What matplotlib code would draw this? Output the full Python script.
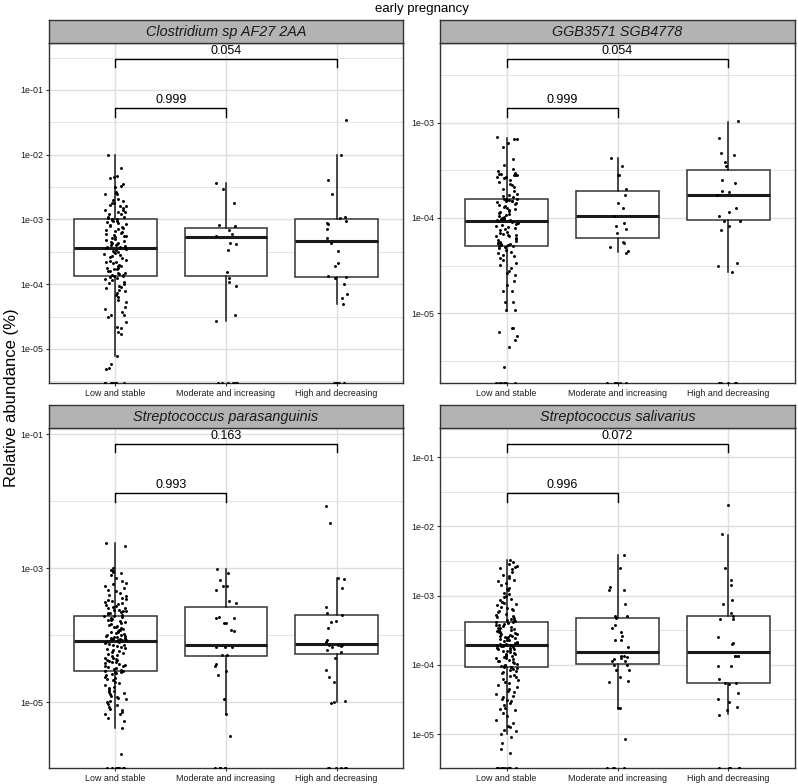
import numpy as np
import matplotlib
matplotlib.use('Agg')
from matplotlib import pyplot as plt
from matplotlib import ticker
from matplotlib.transforms import blended_transform_factory

plt.rcParams['font.family'] = ['Liberation Sans', 'DejaVu Sans']

# Groups (x axis)
groups = ['Low and stable', 'Moderate and increasing', 'High and decreasing']

# Relative abundance (%) per sample. 0 = zero abundance.
clos_low = [1.0e-2, 6.3e-3, 4.7e-3, 4.6e-3, 4.4e-3, 3.5e-3, 3.3e-3, 3.2e-3, 2.7e-3, 2.6e-3,
            2.5e-3, 2.5e-3, 2.1e-3, 2.0e-3, 1.9e-3, 1.8e-3, 1.8e-3, 1.7e-3, 1.6e-3, 1.6e-3,
            1.5e-3, 1.4e-3, 1.4e-3, 1.3e-3, 1.3e-3, 1.2e-3, 1.2e-3, 1.1e-3, 1.1e-3, 1.05e-3,
            1.0e-3, 1.0e-3, 9.8e-4, 9.6e-4, 9.4e-4, 9.0e-4, 8.8e-4, 8.5e-4, 8.2e-4, 8.0e-4,
            7.6e-4, 7.4e-4, 7.1e-4, 6.9e-4, 6.6e-4, 6.4e-4, 6.2e-4, 6.0e-4, 5.8e-4, 5.6e-4,
            5.5e-4, 5.3e-4, 5.1e-4, 5.0e-4, 4.8e-4, 4.7e-4, 4.5e-4, 4.4e-4, 4.3e-4, 4.2e-4,
            4.1e-4, 4.0e-4, 3.9e-4, 3.8e-4, 3.7e-4, 3.7e-4, 3.6e-4, 3.5e-4, 3.4e-4, 3.3e-4,
            3.2e-4, 3.1e-4, 3.0e-4, 2.9e-4, 2.8e-4, 2.7e-4, 2.6e-4, 2.5e-4, 2.4e-4, 2.3e-4,
            2.2e-4, 2.2e-4, 2.1e-4, 2.0e-4, 1.9e-4, 1.9e-4, 1.8e-4, 1.8e-4, 1.7e-4, 1.7e-4,
            1.6e-4, 1.6e-4, 1.5e-4, 1.5e-4, 1.45e-4, 1.4e-4, 1.4e-4, 1.35e-4, 1.33e-4, 1.3e-4,
            1.25e-4, 1.2e-4, 1.15e-4, 1.1e-4, 1.05e-4, 1.0e-4, 9.5e-5, 9.0e-5, 8.6e-5, 8.2e-5,
            7.8e-5, 7.3e-5, 6.8e-5, 6.3e-5, 5.8e-5, 5.4e-5, 4.5e-5, 4.2e-5, 3.7e-5, 3.4e-5,
            3.3e-5, 3.1e-5, 2.6e-5, 2.2e-5, 2.1e-5, 1.8e-5, 1.7e-5, 7.8e-6, 5.9e-6, 5.1e-6,
            4.9e-6, 0, 0, 0, 0, 0, 0, 0, 0]
clos_mod = [3.7e-3, 3.0e-3, 1.8e-3, 8.3e-4, 8.0e-4, 7.0e-4, 6.0e-4, 5.6e-4, 4.4e-4, 4.2e-4,
            3.4e-4, 1.56e-4, 1.25e-4, 1.1e-4, 9.5e-5, 3.4e-5, 2.7e-5, 0, 0, 0, 0, 0, 0]
clos_high = [3.4e-2, 1.0e-2, 4.1e-3, 2.5e-3, 1.1e-3, 1.06e-3, 9.5e-4, 8.9e-4, 8.6e-4, 7.2e-4,
             5.2e-4, 4.4e-4, 3.3e-4, 2.1e-4, 1.9e-4, 1.25e-4, 1.3e-4, 1.35e-4, 1.0e-4, 6.1e-5,
             7.0e-5, 4.9e-5, 0, 0, 0, 0, 0]

ggb_low = [7.1e-4, 6.8e-4, 6.8e-4, 6.2e-4, 5.6e-4, 4.2e-4, 3.6e-4, 3.3e-4, 3.1e-4, 3.0e-4,
           2.9e-4, 2.9e-4, 2.8e-4, 2.8e-4, 2.8e-4, 2.7e-4, 2.7e-4, 2.6e-4, 2.5e-4, 2.4e-4,
           2.3e-4, 2.2e-4, 2.1e-4, 2.0e-4, 1.9e-4, 1.8e-4, 1.75e-4, 1.7e-4, 1.65e-4, 1.6e-4,
           1.6e-4, 1.58e-4, 1.55e-4, 1.55e-4, 1.52e-4, 1.5e-4, 1.5e-4, 1.48e-4, 1.45e-4, 1.4e-4,
           1.38e-4, 1.35e-4, 1.3e-4, 1.28e-4, 1.25e-4, 1.2e-4, 1.18e-4, 1.15e-4, 1.12e-4, 1.1e-4,
           1.08e-4, 1.05e-4, 1.03e-4, 1.0e-4, 9.9e-5, 9.8e-5, 9.7e-5, 9.6e-5, 9.5e-5, 9.4e-5,
           9.3e-5, 9.2e-5, 9.0e-5, 8.8e-5, 8.6e-5, 8.4e-5, 8.2e-5, 8.0e-5, 7.8e-5, 7.6e-5,
           7.4e-5, 7.2e-5, 7.0e-5, 6.8e-5, 6.7e-5, 6.6e-5, 6.5e-5, 6.4e-5, 6.2e-5, 6.0e-5,
           5.9e-5, 5.8e-5, 5.6e-5, 5.5e-5, 5.4e-5, 5.3e-5, 5.3e-5, 5.2e-5, 5.2e-5, 5.1e-5,
           5.1e-5, 5.0e-5, 4.8e-5, 4.6e-5, 4.4e-5, 4.3e-5, 4.1e-5, 4.0e-5, 3.8e-5, 3.6e-5,
           3.4e-5, 3.2e-5, 3.0e-5, 2.8e-5, 2.65e-5, 2.5e-5, 2.2e-5, 2.0e-5, 1.7e-5, 1.7e-5,
           1.3e-5, 1.3e-5, 1.07e-5, 1.07e-5, 7.0e-6, 7.0e-6, 6.3e-6, 5.7e-6, 5.2e-6, 4.4e-6,
           2.7e-6, 0, 0, 0, 0, 0, 0]
ggb_mod = [4.3e-4, 3.5e-4, 2.8e-4, 2.85e-4, 2.0e-4, 1.76e-4, 1.43e-4, 1.27e-4, 1.05e-4, 8.9e-5,
           8.2e-5, 7.7e-5, 7.0e-5, 5.5e-5, 5.6e-5, 4.9e-5, 4.5e-5, 4.3e-5, 0, 0, 0, 0, 0, 0]
ggb_high = [1.05e-3, 6.9e-4, 4.85e-4, 4.6e-4, 3.9e-4, 3.55e-4, 2.35e-4, 2.5e-4, 1.87e-4, 1.9e-4,
            1.74e-4, 1.16e-4, 1.27e-4, 1.05e-4, 9.3e-5, 9.3e-5, 8.2e-5, 7.5e-5, 3.4e-5, 3.1e-5,
            2.7e-5, 0, 0, 0, 0, 0]

para_low = [2.4e-3, 2.1e-3, 1.0e-3, 9.5e-4, 9.0e-4, 8.7e-4, 8.4e-4, 7.9e-4, 7.0e-4, 6.5e-4,
            6.0e-4, 5.7e-4, 5.4e-4, 5.0e-4, 4.7e-4, 4.5e-4, 4.2e-4, 4.0e-4, 3.8e-4, 3.6e-4,
            3.4e-4, 3.3e-4, 3.2e-4, 3.1e-4, 3.0e-4, 2.9e-4, 2.8e-4, 2.7e-4, 2.6e-4, 2.55e-4,
            2.5e-4, 2.4e-4, 2.35e-4, 2.3e-4, 2.25e-4, 2.2e-4, 2.15e-4, 2.1e-4, 2.05e-4, 2.0e-4,
            1.95e-4, 1.9e-4, 1.85e-4, 1.8e-4, 1.75e-4, 1.7e-4, 1.65e-4, 1.6e-4, 1.55e-4, 1.5e-4,
            1.45e-4, 1.4e-4, 1.35e-4, 1.32e-4, 1.3e-4, 1.27e-4, 1.24e-4, 1.2e-4, 1.17e-4, 1.14e-4,
            1.12e-4, 1.1e-4, 1.07e-4, 1.04e-4, 1.0e-4, 9.9e-5, 9.8e-5, 9.6e-5, 9.4e-5, 9.2e-5,
            9.1e-5, 9.0e-5, 8.9e-5, 8.8e-5, 8.7e-5, 8.6e-5, 8.5e-5, 8.4e-5, 8.3e-5, 8.2e-5,
            8.1e-5, 8.0e-5, 7.8e-5, 7.6e-5, 7.4e-5, 7.2e-5, 7.0e-5, 6.8e-5, 6.6e-5, 6.4e-5,
            6.2e-5, 6.0e-5, 5.8e-5, 5.6e-5, 5.4e-5, 5.2e-5, 5.0e-5, 4.8e-5, 4.6e-5, 4.5e-5,
            4.4e-5, 4.3e-5, 4.2e-5, 4.1e-5, 4.0e-5, 3.9e-5, 3.8e-5, 3.7e-5, 3.6e-5, 3.5e-5,
            3.4e-5, 3.3e-5, 3.2e-5, 3.1e-5, 3.0e-5, 2.95e-5, 2.9e-5, 2.85e-5, 2.8e-5, 2.7e-5,
            2.6e-5, 2.5e-5, 2.4e-5, 2.3e-5, 2.2e-5, 2.1e-5, 2.0e-5, 1.9e-5, 1.8e-5, 1.7e-5,
            1.6e-5, 1.5e-5, 1.45e-5, 1.4e-5, 1.35e-5, 1.3e-5, 1.25e-5, 1.2e-5, 1.15e-5, 1.1e-5,
            1.05e-5, 1.0e-5, 9.5e-6, 9.0e-6, 8.5e-6, 8.0e-6, 7.5e-6, 7.0e-6, 6.6e-6, 6.6e-6,
            5.8e-6, 5.2e-6, 4.1e-6, 1.7e-6, 0, 0, 0, 0, 0, 0, 0, 0, 0, 0]
para_mod = [9.8e-4, 8.4e-4, 6.6e-4, 5.4e-4, 5.4e-4, 4.7e-4, 3.2e-4, 3.0e-4, 1.8e-4, 1.8e-4,
            1.85e-4, 1.5e-4, 1.5e-4, 1.2e-4, 1.15e-4, 6.6e-5, 6.6e-5, 6.6e-5, 5.0e-5, 5.0e-5,
            3.7e-5, 3.4e-5, 2.9e-5, 2.5e-5, 1.1e-5, 6.6e-6, 3.1e-6, 0, 0, 0, 0, 0, 0]
para_high = [8.4e-3, 4.7e-3, 7.1e-4, 6.8e-4, 5.0e-4, 2.6e-4, 2.1e-4, 2.0e-4, 1.6e-4, 1.55e-4,
             1.27e-4, 8.4e-5, 8.0e-5, 7.2e-5, 7.0e-5, 7.0e-5, 6.8e-5, 6.6e-5, 6.0e-5, 5.6e-5,
             4.6e-5, 3.0e-5, 2.4e-5, 2.0e-5, 1.05e-5, 1.0e-5, 9.6e-6, 0, 0, 0, 0, 0, 0]

sali_low = [3.3e-3, 3.1e-3, 2.9e-3, 2.7e-3, 2.6e-3, 2.5e-3, 2.4e-3, 2.2e-3, 2.0e-3, 1.9e-3,
            1.8e-3, 1.7e-3, 1.6e-3, 1.5e-3, 1.4e-3, 1.3e-3, 1.25e-3, 1.2e-3, 1.1e-3, 1.05e-3,
            1.0e-3, 9.5e-4, 9.0e-4, 8.6e-4, 8.2e-4, 7.8e-4, 7.5e-4, 7.2e-4, 6.9e-4, 6.6e-4,
            6.3e-4, 6.1e-4, 5.9e-4, 5.7e-4, 5.5e-4, 5.3e-4, 5.1e-4, 4.9e-4, 4.7e-4, 4.6e-4,
            4.5e-4, 4.4e-4, 4.3e-4, 4.15e-4, 4.1e-4, 4.0e-4, 3.9e-4, 3.8e-4, 3.7e-4, 3.6e-4,
            3.5e-4, 3.45e-4, 3.4e-4, 3.3e-4, 3.2e-4, 3.15e-4, 3.1e-4, 3.0e-4, 2.95e-4, 2.9e-4,
            2.8e-4, 2.75e-4, 2.7e-4, 2.65e-4, 2.6e-4, 2.55e-4, 2.5e-4, 2.45e-4, 2.4e-4, 2.35e-4,
            2.3e-4, 2.25e-4, 2.2e-4, 2.15e-4, 2.1e-4, 2.05e-4, 2.0e-4, 1.98e-4, 1.96e-4, 1.94e-4,
            1.9e-4, 1.87e-4, 1.84e-4, 1.8e-4, 1.77e-4, 1.74e-4, 1.7e-4, 1.67e-4, 1.64e-4, 1.6e-4,
            1.56e-4, 1.52e-4, 1.48e-4, 1.45e-4, 1.42e-4, 1.39e-4, 1.36e-4, 1.33e-4, 1.3e-4, 1.27e-4,
            1.24e-4, 1.21e-4, 1.18e-4, 1.15e-4, 1.12e-4, 1.09e-4, 1.06e-4, 1.03e-4, 1.0e-4, 9.8e-5,
            9.6e-5, 9.5e-5, 9.4e-5, 9.3e-5, 9.3e-5, 9.2e-5, 9.0e-5, 8.7e-5, 8.4e-5, 8.1e-5,
            7.8e-5, 7.5e-5, 7.2e-5, 6.9e-5, 6.6e-5, 6.3e-5, 6.0e-5, 5.7e-5, 5.4e-5, 5.1e-5,
            4.8e-5, 4.5e-5, 4.2e-5, 4.0e-5, 3.8e-5, 3.6e-5, 3.4e-5, 3.2e-5, 3.1e-5, 3.0e-5,
            2.8e-5, 2.6e-5, 2.4e-5, 2.3e-5, 2.2e-5, 2.0e-5, 1.8e-5, 1.6e-5, 1.45e-5, 1.3e-5,
            1.25e-5, 1.15e-5, 1.1e-5, 1.0e-5, 9.2e-6, 7.5e-6, 6.0e-6, 5.4e-6,
            0, 0, 0, 0, 0, 0, 0, 0, 0, 0]
sali_mod = [3.8e-3, 2.5e-3, 1.35e-3, 1.2e-3, 1.2e-3, 7.6e-4, 5.0e-4, 5.0e-4, 4.8e-4, 3.7e-4,
            3.4e-4, 3.0e-4, 2.3e-4, 2.3e-4, 2.6e-4, 1.8e-4, 1.35e-4, 1.35e-4, 1.3e-4, 1.2e-4,
            1.15e-4, 1.15e-4, 1.25e-4, 1.0e-4, 9.8e-5, 8.3e-5, 8.3e-5, 6.7e-5, 5.6e-5, 5.8e-5,
            2.4e-5, 2.4e-5, 8.6e-6, 0, 0, 0, 0]
sali_high = [2.0e-2, 7.8e-3, 2.5e-3, 1.7e-3, 1.4e-3, 8.5e-4, 7.6e-4, 5.6e-4, 4.6e-4, 4.6e-4,
             5.1e-4, 2.5e-4, 2.0e-4, 2.1e-4, 1.35e-4, 1.35e-4, 1.35e-4, 1.35e-4, 9.5e-5, 9.5e-5,
             6.3e-5, 5.5e-5, 5.5e-5, 5.2e-5, 3.9e-5, 3.2e-5, 2.9e-5, 2.2e-5, 2.5e-5, 1.9e-5,
             0, 0, 0, 0, 0, 0]

# Box statistics per group: (lower whisker, Q1, median, Q3, upper whisker)
clos_box = [(7.8e-6, 1.33e-4, 3.6e-4, 1.0e-3, 1.0e-2),
            (2.7e-5, 1.35e-4, 5.3e-4, 7.5e-4, 3.7e-3),
            (4.9e-5, 1.3e-4, 4.6e-4, 1.0e-3, 1.0e-2)]
ggb_box = [(1.05e-5, 5.1e-5, 9.3e-5, 1.6e-4, 7.0e-4),
           (4.4e-5, 6.2e-5, 1.05e-4, 1.92e-4, 4.3e-4),
           (2.7e-5, 9.5e-5, 1.74e-4, 3.2e-4, 1.03e-3)]
para_box = [(4.1e-6, 2.9e-5, 8.1e-5, 1.92e-4, 2.36e-3),
            (6.6e-6, 4.9e-5, 7.1e-5, 2.6e-4, 9.8e-4),
            (1.0e-5, 5.2e-5, 7.4e-5, 2.0e-4, 7.1e-4)]
sali_box = [(1.0e-5, 9.3e-5, 1.96e-4, 4.2e-4, 3.3e-3),
            (2.4e-5, 1.03e-4, 1.55e-4, 4.8e-4, 3.8e-3),
            (1.95e-5, 5.5e-5, 1.52e-4, 5.1e-4, 7.4e-3)]

# p-values: (low vs moderate, low vs high)
clos_p = ['0.999', '0.054']
ggb_p = ['0.999', '0.054']
para_p = ['0.993', '0.163']
sali_p = ['0.996', '0.072']

titles = ['Clostridium sp AF27 2AA', 'GGB3571 SGB4778',
          'Streptococcus parasanguinis', 'Streptococcus salivarius']

panels = [
    (titles[0], [clos_low, clos_mod, clos_high], clos_box, clos_p),
    (titles[1], [ggb_low, ggb_mod, ggb_high], ggb_box, ggb_p),
    (titles[2], [para_low, para_mod, para_high], para_box, para_p),
    (titles[3], [sali_low, sali_mod, sali_high], sali_box, sali_p),
]

# layout (pixels of a 798x784 canvas)
W, H = 798, 784
panel_px = [(49, 43, 403, 383), (440, 43, 795, 383),
            (49, 428, 403, 768), (440, 428, 795, 768)]
strip_h = 23.5
ylims = [(-5.526, -0.274), (-5.733, -2.162), (-5.985, -0.91), (-5.49, -0.58)]
major_exp = [[-5, -4, -3, -2, -1], [-5, -4, -3], [-5, -3, -1], [-5, -4, -3, -2, -1]]
minor_exp = [[-5.5, -4.5, -3.5, -2.5, -1.5, -0.5], [-5.5, -4.5, -3.5, -2.5],
             [-6, -4, -2], [-5.5, -4.5, -3.5, -2.5, -1.5]]

grid_col = '#DEDEDE'
dark = '#333333'


def jitter(n, seed):
    # fixed, hash-like horizontal offsets within +-0.1 (position only)
    i = np.arange(n) + seed * 101.0
    return ((np.sin(i * 12.9898 + 78.233) * 43758.5453) % 1.0 - 0.5) * 0.2


fig = plt.figure(figsize=(W / 100, H / 100), dpi=100)

for k, (title, data, box, pv) in enumerate(panels):
    x0, y0, x1, y1 = panel_px[k]
    ax = fig.add_axes([x0 / W, 1 - y1 / H, (x1 - x0) / W, (y1 - y0) / H])
    ax.set_yscale('log')
    lo, hi = 10 ** ylims[k][0], 10 ** ylims[k][1]

    stats = [dict(whislo=b[0], q1=b[1], med=b[2], q3=b[3], whishi=b[4], fliers=[]) for b in box]
    ax.bxp(stats, positions=[1, 2, 3], widths=0.75, showcaps=False, showfliers=False,
           patch_artist=True, manage_ticks=False,
           boxprops=dict(facecolor='white', edgecolor=dark, lw=1.1),
           whiskerprops=dict(color='#1A1A1A', lw=1.1),
           medianprops=dict(color='#1A1A1A', lw=2.2),
           zorder=2)

    for gi, vals in enumerate(data):
        v = np.array(vals, dtype=float)
        off = jitter(len(v), 4 * k + gi)
        yv = np.where(v > 0, v, lo)
        ax.scatter(gi + 1 + off, yv, s=4.5, color='black', lw=0, zorder=3)

    ax.set_ylim(lo, hi)
    ax.set_xlim(0.4, 3.6)
    ax.yaxis.set_major_locator(ticker.FixedLocator([10.0 ** e for e in major_exp[k]]))
    ax.yaxis.set_major_formatter(ticker.FixedFormatter(['1e-%02d' % -e for e in major_exp[k]]))
    ax.yaxis.set_minor_locator(ticker.FixedLocator([10.0 ** e for e in minor_exp[k]]))
    ax.yaxis.set_minor_formatter(ticker.NullFormatter())
    ax.set_xticks([1, 2, 3])
    ax.set_xticklabels(groups)
    ax.grid(True, which='major', color=grid_col, lw=1.0, zorder=0)
    ax.grid(True, which='minor', axis='y', color=grid_col, lw=0.6, zorder=0)
    ax.set_axisbelow(True)
    ax.tick_params(axis='both', which='major', length=2.5, width=0.8, color=dark,
                   labelsize=6.4, labelcolor='#1A1A1A', pad=1.5)
    ax.tick_params(axis='y', which='minor', length=0)
    for s in ax.spines.values():
        s.set_color(dark)
        s.set_linewidth(1.0)

    # significance brackets (x in data, y in axes fraction)
    tr = blended_transform_factory(ax.transData, ax.transAxes)
    for (xa, xb), (yt, yb), label in [((1, 2), (0.809, 0.783), pv[0]),
                                     ((1, 3), (0.954, 0.930), pv[1])]:
        ax.plot([xa, xa, xb, xb], [yb, yt, yt, yb], color='black', lw=1.0,
                transform=tr, clip_on=False, zorder=4)
        ax.text((xa + xb) / 2, yt + 0.006, label, transform=tr, ha='center', va='bottom',
                fontsize=9, color='black', zorder=4)

    # facet strip
    sax = fig.add_axes([x0 / W, 1 - y0 / H, (x1 - x0) / W, strip_h / H])
    sax.set_facecolor('#B3B3B3')
    sax.set_xticks([])
    sax.set_yticks([])
    for s in sax.spines.values():
        s.set_color(dark)
        s.set_linewidth(1.0)
    sax.text(0.5, 0.47, title, transform=sax.transAxes, ha='center', va='center',
             fontsize=10.4, style='italic', color='#1A1A1A')

fig.text(422 / W, 1 - 9 / H, 'early pregnancy', ha='center', va='center', fontsize=9.5)
fig.text(12 / W, 1 - 398 / H, 'Relative abundance (%)', ha='center', va='center',
         rotation=90, fontsize=12)

fig.savefig('out.png', dpi=100)
